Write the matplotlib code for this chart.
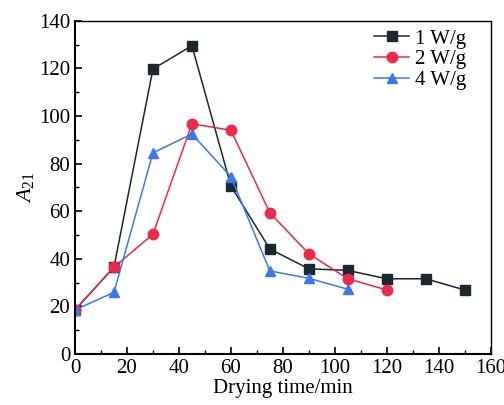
import numpy as np
import matplotlib
matplotlib.use("Agg")
import matplotlib.pyplot as plt
from matplotlib.ticker import MultipleLocator

plt.rcParams['font.family'] = ['Liberation Serif', 'DejaVu Serif']
plt.rcParams['mathtext.fontset'] = 'custom'
plt.rcParams['mathtext.rm'] = 'Liberation Serif'
plt.rcParams['mathtext.it'] = 'Liberation Serif:italic'

# data
t1 = [0, 15, 30, 45, 60, 75, 90, 105, 120, 135, 150]
a1 = [18.5, 36.5, 119.7, 129.5, 70.6, 44.1, 35.8, 35.1, 31.6, 31.6, 26.9]
t2 = [0, 15, 30, 45, 60, 75, 90, 105, 120]
a2 = [18.5, 36.5, 50.3, 96.7, 94.0, 59.3, 42.1, 31.6, 26.9]
t4 = [0, 15, 30, 45, 60, 75, 90, 105]
a4 = [18.5, 25.9, 84.5, 92.4, 74.5, 34.9, 31.8, 27.2]

fig = plt.figure(figsize=(5.04, 4.05), dpi=100)
ax = fig.add_axes([75/504, 1 - 354/405, (490.7 - 75)/504, (354 - 20.7)/405])

ax.plot(t1, a1, color='#1b2830', marker='s', ms=6.5, lw=1.1, label='1 W/g')
ax.plot(t2, a2, color='#f0284a', marker='o', ms=7.5, lw=1.1, label='2 W/g')
ax.plot(t4, a4, color='#3a78f0', marker='^', ms=7.5, lw=1.1, label='4 W/g')

ax.set_xlim(0, 160)
ax.set_ylim(0, 140)
ax.xaxis.set_major_locator(MultipleLocator(20))
ax.xaxis.set_minor_locator(MultipleLocator(10))
ax.yaxis.set_major_locator(MultipleLocator(20))
ax.yaxis.set_minor_locator(MultipleLocator(10))
ax.tick_params(which='both', direction='in', top=False, right=False, labelsize=15)
ax.tick_params(which='major', length=5, width=1.2)
ax.tick_params(which='minor', length=3, width=1.0)
for s in ['left', 'bottom']:
    ax.spines[s].set_linewidth(1.5)
for s in ['top', 'right']:
    ax.spines[s].set_linewidth(1.0)

ax.set_xlabel('Drying time/min', fontsize=15, labelpad=1)
ax.set_ylabel(r'$A_{\mathrm{21}}$', fontsize=16, labelpad=2)

ax.legend(loc='upper left', frameon=False, fontsize=15, handlelength=1.7,
          handletextpad=0.25, labelspacing=0.05, borderaxespad=0.0,
          bbox_to_anchor=(0.699, 1.0))

fig.savefig('out.png', dpi=100)
